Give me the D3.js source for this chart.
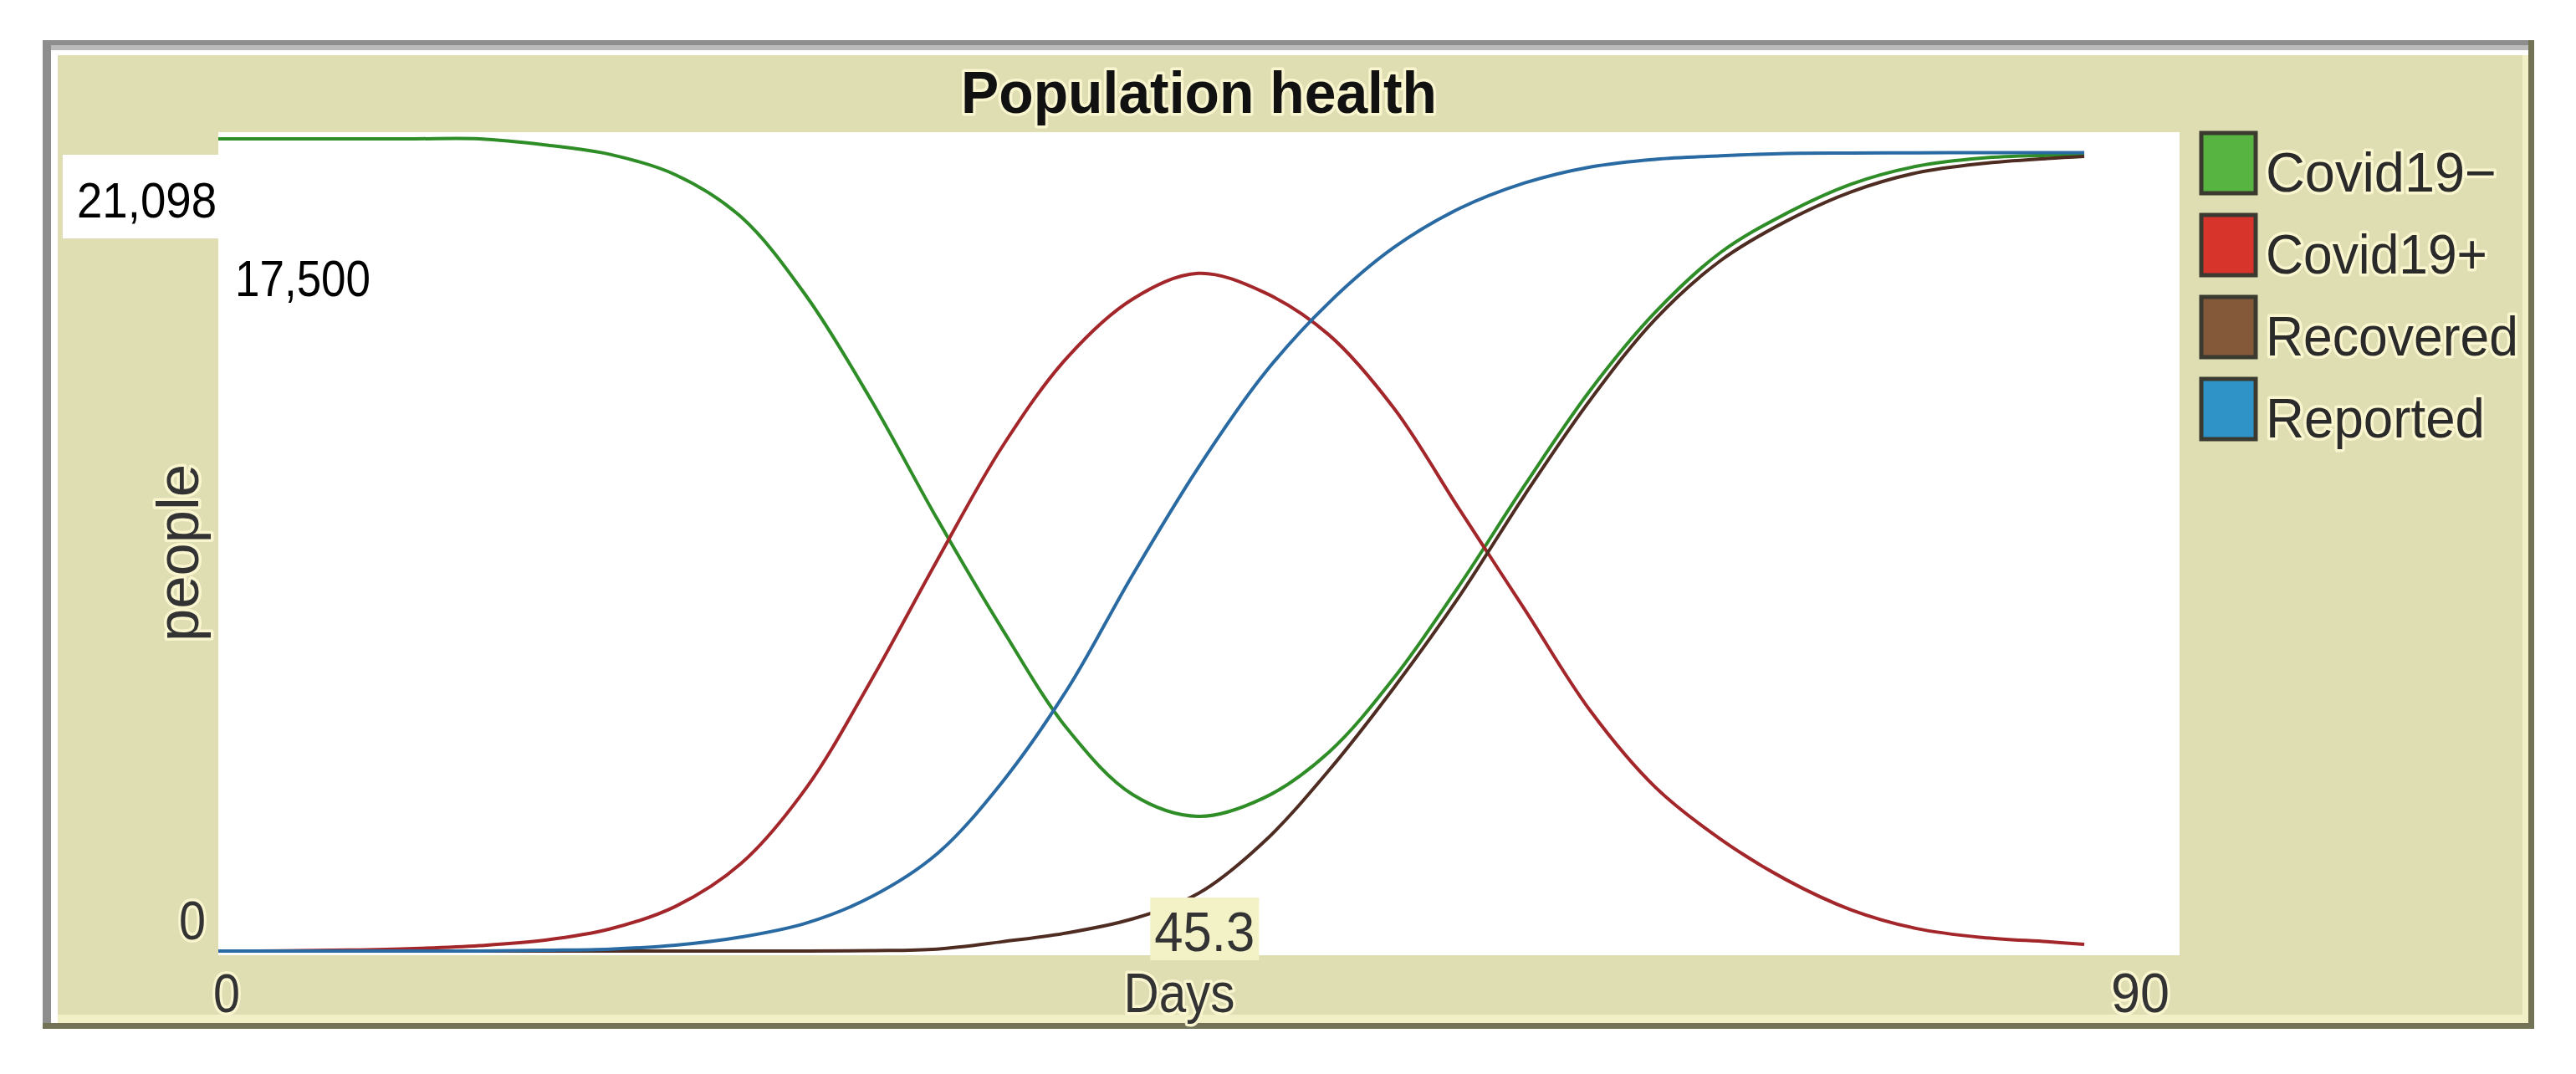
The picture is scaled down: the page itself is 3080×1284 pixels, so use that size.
<!DOCTYPE html>
<html>
<head>
<meta charset="utf-8">
<script src="https://cdn.jsdelivr.net/npm/d3@7"></script>
<style>
  html, body { margin: 0; padding: 0; background: #fff; }
  svg { display: block; }
  text { font-family: "Liberation Sans", Arial, sans-serif; }
  .halo { paint-order: stroke; stroke: #f8f5cf; stroke-width: 7px; stroke-linejoin: round; }
</style>
</head>
<body>
<svg id="chart" width="3080" height="1284"></svg>
<script>
// data (days vs people)
const days = [0, 3, 6, 9, 12, 15, 18, 21, 24, 27, 30, 33, 36, 39, 42, 45, 48, 51, 54, 57, 60, 63, 66, 69, 72, 75, 78, 81, 84, 85.7];
const covidNeg = [20926, 20926, 20926, 20926, 20926, 20770, 20525, 20000, 18920, 16880, 14180, 11150, 8300, 5720, 4030, 3470, 3940, 5120, 7040, 9420, 12000, 14440, 16460, 18000, 19000, 19760, 20220, 20430, 20500, 20517];
const covidPos = [0, 5, 25, 65, 140, 280, 570, 1150, 2250, 4200, 6990, 10050, 12990, 15300, 16800, 17460, 16980, 15880, 13980, 11380, 8800, 6200, 4220, 2880, 1840, 1060, 580, 350, 240, 170];
const recovered = [0, 0, 0, 0, 0, 0, 0, 0, 0, 0, 10, 50, 240, 470, 830, 1480, 2800, 4650, 6790, 9140, 11750, 14190, 16280, 17790, 18800, 19560, 20050, 20290, 20420, 20473];
const reported = [0, 0, 0, 0, 0, 20, 50, 150, 360, 720, 1400, 2500, 4350, 6750, 9700, 12450, 14850, 16700, 18130, 19130, 19790, 20200, 20400, 20490, 20550, 20560, 20565, 20570, 20570, 20570];

const seriesNames = ["Covid19\u2212", "Covid19+", "Recovered", "Reported"];
const lineColors = ["#2f8d27", "#a3262a", "#4e2c22", "#2a6aa3"];
const swatchColors = ["#58b440", "#d7352c", "#83593a", "#2f93c8"];
const xDomain = [0, 90];
const yDomain = [0, 21098];
const readout = { x: 45.3, y: 17500 };

const svg = d3.select('#chart');

// frame
svg.append('rect').attr('x', 51).attr('y', 48).attr('width', 2979).attr('height', 1182).attr('fill', '#727257');
svg.append('rect').attr('x', 51).attr('y', 48).attr('width', 2972).attr('height', 1175).attr('fill', '#8d8d8d');
svg.append('rect').attr('x', 61).attr('y', 54).attr('width', 2962).attr('height', 1169).attr('fill', '#bababa');
svg.append('rect').attr('x', 61).attr('y', 60).attr('width', 2962).attr('height', 1163).attr('fill', '#ffffff');
svg.append('rect').attr('x', 69).attr('y', 66).attr('width', 2954).attr('height', 1157).attr('fill', '#f1efc6');
svg.append('rect').attr('x', 69).attr('y', 66).attr('width', 2947).attr('height', 1147).attr('fill', '#dfdeb3');

// plot area
const plot = { left: 261, top: 158, right: 2606, bottom: 1142 };
const x = d3.scaleLinear().domain(xDomain).range([261, 2604]);
const y = d3.scaleLinear().domain(yDomain).range([1137, 158]);

svg.append('rect')
  .attr('x', plot.left).attr('y', plot.top)
  .attr('width', plot.right - plot.left).attr('height', plot.bottom - plot.top)
  .attr('fill', '#ffffff');

// title
svg.append('text')
  .attr('class', 'halo')
  .attr('x', (plot.left + plot.right) / 2).attr('y', 135)
  .attr('text-anchor', 'middle')
  .attr('font-size', 70).attr('font-weight', 'bold')
  .attr('fill', '#111')
  .attr('textLength', 569).attr('lengthAdjust', 'spacingAndGlyphs')
  .text('Population health');

// lines
const allSeries = [covidNeg, covidPos, recovered, reported];
const line = d3.line()
  .x((d, i) => x(days[i]))
  .y(d => y(d))
  .curve(d3.curveCatmullRom.alpha(0.5));

svg.append('g')
  .selectAll('path')
  .data(allSeries)
  .join('path')
  .attr('d', d => line(d))
  .attr('fill', 'none')
  .attr('stroke', (d, i) => lineColors[i])
  .attr('stroke-width', 4)
  .attr('stroke-linejoin', 'round');

// y max box + label
svg.append('rect').attr('x', 75).attr('y', 185).attr('width', plot.left - 75).attr('height', 100).attr('fill', '#ffffff');
svg.append('text')
  .attr('x', x(0) - 2).attr('y', 260)
  .attr('text-anchor', 'end')
  .attr('font-size', 60).attr('fill', '#000')
  .attr('textLength', 167).attr('lengthAdjust', 'spacingAndGlyphs')
  .text(d3.format(',')(yDomain[1]));

// readout y value
svg.append('text')
  .attr('x', 281).attr('y', y(readout.y) + 29)
  .attr('font-size', 62).attr('fill', '#000')
  .attr('textLength', 162).attr('lengthAdjust', 'spacingAndGlyphs')
  .text(d3.format(',')(readout.y));

// readout x value
const rx = x(readout.x);
svg.append('rect').attr('x', rx - 65).attr('y', 1073).attr('width', 130).attr('height', 75).attr('fill', '#f3f1c6');
svg.append('text')
  .attr('x', rx).attr('y', 1137)
  .attr('text-anchor', 'middle')
  .attr('font-size', 66).attr('fill', '#333')
  .attr('textLength', 120).attr('lengthAdjust', 'spacingAndGlyphs')
  .text(readout.x);

// axis labels
svg.append('text').attr('class', 'halo')
  .attr('x', 246).attr('y', y(0) - 14)
  .attr('text-anchor', 'end').attr('font-size', 64).attr('fill', '#333')
  .attr('textLength', 32).attr('lengthAdjust', 'spacingAndGlyphs')
  .text(yDomain[0]);
svg.append('text').attr('class', 'halo')
  .attr('x', x(0) - 6).attr('y', 1210)
  .attr('font-size', 64).attr('fill', '#333')
  .attr('textLength', 32).attr('lengthAdjust', 'spacingAndGlyphs')
  .text(xDomain[0]);
svg.append('text').attr('class', 'halo')
  .attr('x', x(90) - 10).attr('y', 1210)
  .attr('text-anchor', 'end').attr('font-size', 66).attr('fill', '#333')
  .attr('textLength', 70).attr('lengthAdjust', 'spacingAndGlyphs')
  .text(xDomain[1]);
svg.append('text').attr('class', 'halo')
  .attr('x', 1410).attr('y', 1210)
  .attr('text-anchor', 'middle').attr('font-size', 66).attr('fill', '#333')
  .attr('textLength', 133).attr('lengthAdjust', 'spacingAndGlyphs')
  .text('Days');
svg.append('text').attr('class', 'halo')
  .attr('transform', 'translate(237,661) rotate(-90)')
  .attr('text-anchor', 'middle').attr('font-size', 70).attr('fill', '#333')
  .attr('textLength', 212).attr('lengthAdjust', 'spacingAndGlyphs')
  .text('people');

// legend
const legendWidths = [276, 265, 302, 262];
const legend = svg.append('g')
  .selectAll('g')
  .data(seriesNames)
  .join('g')
  .attr('transform', (d, i) => `translate(2630,${157 + i * 98})`);

legend.append('rect')
  .attr('x', 2).attr('y', 2).attr('width', 65).attr('height', 72)
  .attr('fill', (d, i) => swatchColors[i])
  .attr('stroke', '#3a3a30').attr('stroke-width', 5);

legend.append('text')
  .attr('class', 'halo')
  .attr('x', 79).attr('y', 72)
  .attr('font-size', 66).attr('fill', '#2a2a2a')
  .attr('textLength', (d, i) => legendWidths[i]).attr('lengthAdjust', 'spacingAndGlyphs')
  .text(d => d);
</script>
</body>
</html>
